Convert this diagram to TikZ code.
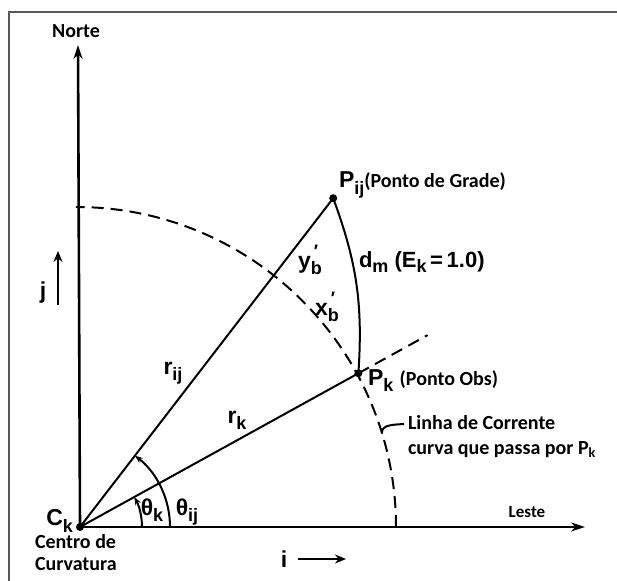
\documentclass[tikz,border=0pt]{standalone}
\usepackage{fontspec}
\setmainfont{Carlito}
\newfontfamily\lettering{Liberation Sans}
\usetikzlibrary{arrows.meta,positioning}

\newcommand\sbs[1]{\raisebox{-0.5ex}{\fontsize{9}{10}\selectfont#1}}
\newcommand\prm[2]{#1\rlap{\raisebox{0.9ex}{\fontsize{9}{10}\selectfont\,′}}\sbs{#2}}

\tikzset{
  txt/.style={font=\bfseries\fontsize{10}{12}\selectfont, inner sep=0pt},
  sym/.style={font=\lettering\bfseries\fontsize{11.5}{13}\selectfont, inner sep=0pt},
  axis/.style={line width=1.3pt, -{Stealth[length=7pt,width=4.5pt]}},
  small arrow/.style={-{Stealth[length=4pt,width=3pt]}},
  unit arrow/.style={line width=1.3pt, -{Stealth[length=5.5pt,width=4.5pt]}},
  circ/.style={dashed, dash pattern=on 6pt off 3.5pt},
}

\begin{document}
\begin{tikzpicture}[x=0.5pt, y=0.5pt, line width=1pt]
    \useasboundingbox (-80,-54) rectangle (537,527);
    % frame
    \draw[gray!70!black, line width=1.2pt] (-71,-54) -- (-71,515) -- (537,515);
    % axes
    \coordinate (C) at (0,0);
    \coordinate (norte) at (-2,482);
    \coordinate (leste) at (505,0);
    \draw[axis] (C) -- (norte);
    \draw[axis] (C) -- (leste);
    \node[txt] (lnorte) at (-4,496) {Norte};
    \node[txt, font=\bfseries\fontsize{8.5}{10}\selectfont] (lleste) at (447,15) {Leste};
    \fill (C) circle (4);
    \node[sym, anchor=east] (ck) at (-6,6) {C\sbs{k}};
    \node[txt, anchor=north west, align=left, font=\bfseries\fontsize{10}{11}\selectfont] (centro) at (-46,-6) {Centro de\\Curvatura};
    % unit vectors
    \node[sym] (j) at (-37,234) {j};
    \coordinate (j0) at (-22,222);
    \coordinate (j1) at (-22,276);
    \draw[unit arrow] (j0) -- (j1);
    \node[sym] (i) at (204,-32) {i};
    \coordinate (i0) at (218,-32);
    \coordinate (i1) at (266,-32);
    \draw[unit arrow] (i0) -- (i1);
    % circle through P_k
    \draw[circ] (316,0) arc (0:90:320);
    \coordinate (Pk) at (28.9:318);
    \coordinate (Pij) at (52.4:415);
    \coordinate (ext) at (28.9:397);
    \draw (C) -- (Pij);
    \draw (C) -- (Pk);
    \draw[circ] (Pk) -- (ext);
    \draw (Pij) to[bend left=12] (Pk);
    \fill (Pij) circle (4);
    \fill (Pk) circle (4);
    % angles
    \draw[small arrow] (62,0) arc (0:28.9:62);
    \draw[small arrow] (90,0) arc (0:52.4:90);
    \node[sym] (thk) at (72,17) {θ\sbs{k}};
    \node[sym] (thij) at (107,15) {θ\sbs{ij}};
    % labels
    \node[sym] (rij) at (93,154) {r\sbs{ij}};
    \node[sym] (rk) at (157,107) {r\sbs{k}};
    \node[sym] (yb) at (230,267) {\prm{y}{b}};
    \node[sym] (xb) at (247,220) {\prm{x}{b}};
    \node[sym, anchor=west, font=\lettering\bfseries\fontsize{11}{13}\selectfont] (dm) at (278,265) {d\sbs{m} (E\sbs{k}\,=\,1.0)};
    \node[sym, anchor=west] (lpij) at (258,342) {P\sbs{ij}{\bfseries\rmfamily\fontsize{10}{12}\selectfont(Ponto de Grade)}};
    \node[sym, anchor=west] (lpk) at (287,146) {P\sbs{k} {\bfseries\rmfamily\fontsize{10}{12}\selectfont(Ponto Obs)}};
    \node[txt, anchor=west, align=left, font=\bfseries\fontsize{10}{12.5}\selectfont] (linha) at (327,90) {Linha de Corrente\\curva que passa por P\textsubscript{k}};
    \coordinate (hook) at (324,103);
    \draw (17.2:316) to[out=95,in=185] (hook);
\end{tikzpicture}
\end{document}
